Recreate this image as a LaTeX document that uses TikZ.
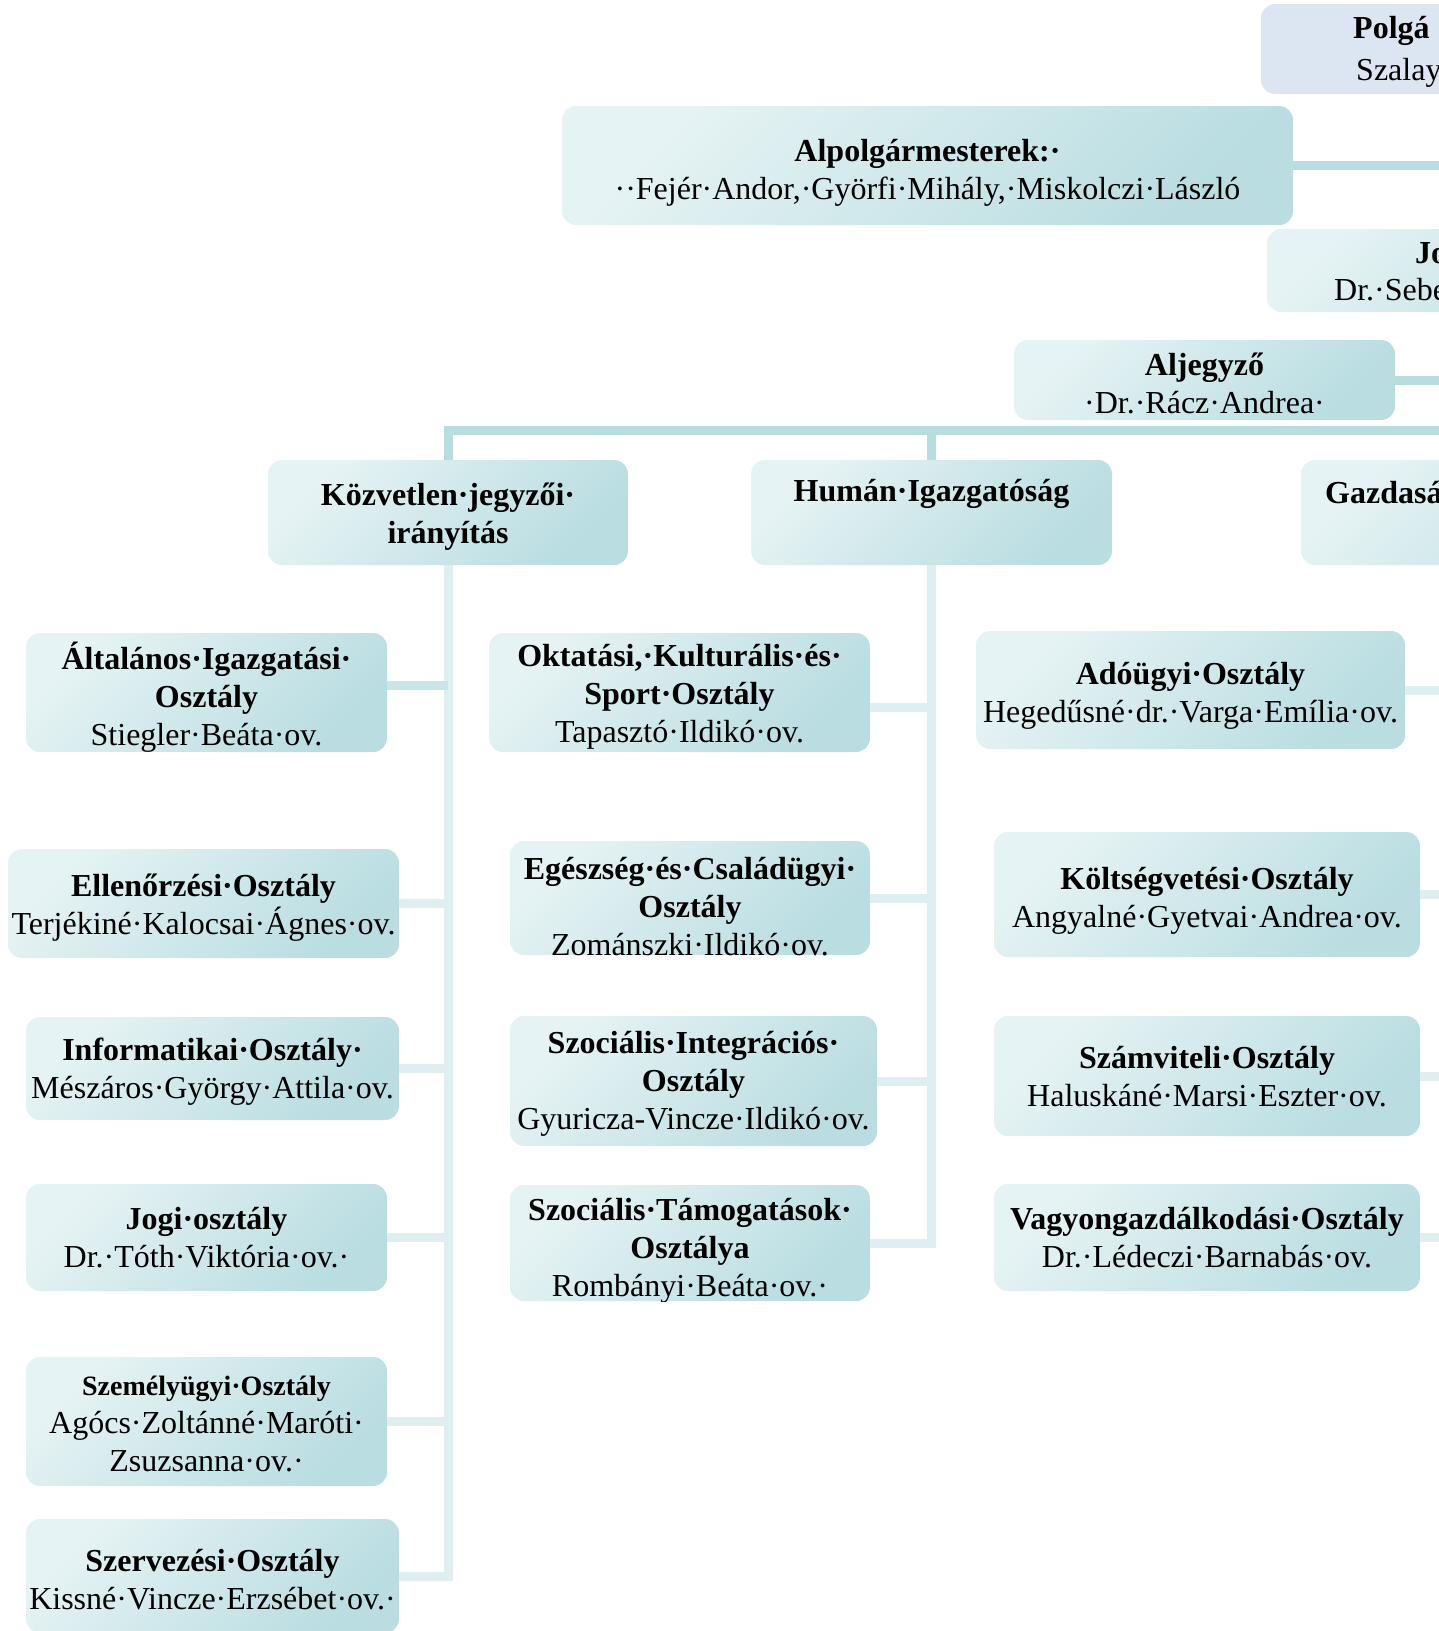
\documentclass[tikz,border=0pt]{standalone}
\usepackage{fontspec}
\setmainfont{Liberation Serif}
\usepackage{xcolor}
\usepackage{tikz}
\usetikzlibrary{calc}
\definecolor{boxlight}{HTML}{E6F3F4}
\definecolor{boxdark}{HTML}{B9DDE1}
\definecolor{headblue}{HTML}{DCE6F2}
\definecolor{linedark}{HTML}{B8DDE1}
\definecolor{linemid}{HTML}{C8E5E8}
\definecolor{linelight}{HTML}{DFEFF1}
\tikzset{
  unit/.style={rounded corners=14pt, top color=boxlight, bottom color=boxdark, shading angle=45, inner sep=0pt},
  head/.style={rounded corners=14pt, fill=headblue, inner sep=0pt},
  lbl/.style={align=center, inner sep=0pt, font=\fontsize{32}{38}\selectfont},
  bold/.style={lbl, font=\fontsize{32}{38}\selectfont\bfseries},
  intext/.style n args={3}{path picture={\node[lbl] (#1) at ([yshift=#2]path picture bounding box.center) {#3};}},
  mainline/.style={draw=linedark, line width=9pt},
  subline/.style={draw=linelight, line width=9pt},
}
\begin{document}
\begin{tikzpicture}[x=1pt,y=-1pt]
\useasboundingbox (0,0) rectangle (1439,1631);
\clip (0,0) rectangle (1439,1631);
\coordinate (edge) at (1470,0);
\coordinate (bus) at (0,430);

\node[head, minimum width=440, minimum height=90] (polg) at (1481,49) {};
\node[bold, anchor=west] (polgt) at (1353,31) {Polgá};
\node[lbl, anchor=west] (polgn) at (1356,73) {Szalay};
\node[unit, minimum width=731, minimum height=119, intext={alpolgt}{-7pt}{\textbf{Alpolgármesterek:·}\\··Fejér·Andor,·Györfi·Mihály,·Miskolczi·László}] (alpolg) at (927.5,165.5) {};
\node[unit, minimum width=440, minimum height=83] (jegyzo) at (1487,270.5) {};
\node[bold, anchor=west] (jegyzot) at (1415,253) {Jo};
\node[lbl, anchor=west] (jegyzon) at (1334,290) {Dr.·Sebe};
\node[unit, minimum width=381, minimum height=80, intext={aljegyt}{-3pt}{\textbf{Aljegyző}\\·Dr.·Rácz·Andrea·}] (aljegy) at (1204.5,380) {};

\node[unit, minimum width=360, minimum height=105, intext={kozvt}{-4pt}{\textbf{Közvetlen·jegyzői·}\\\textbf{irányítás}}] (kozv) at (448,512.5) {};
\node[unit, minimum width=361, minimum height=105, intext={humant}{19pt}{\textbf{Humán·Igazgatóság}}] (human) at (931.5,512.5) {};
\node[unit, minimum width=440, minimum height=105] (gazd) at (1521,512.5) {};
\node[bold, anchor=west] (gazdt) at (1325,493) {Gazdasá};

\node[unit, minimum width=361, minimum height=119, intext={altalt}{-4.5pt}{\textbf{Általános·Igazgatási·}\\\textbf{Osztály}\\Stiegler·Beáta·ov.}] (altal) at (206.5,692.5) {};
\node[unit, minimum width=391, minimum height=109, intext={ellent}{-4pt}{\textbf{Ellenőrzési·Osztály}\\Terjékiné·Kalocsai·Ágnes·ov.}] (ellen) at (203.5,903.5) {};
\node[unit, minimum width=373, minimum height=103, intext={informt}{-3pt}{\textbf{Informatikai·Osztály·}\\Mészáros·György·Attila·ov.}] (inform) at (212.5,1068.5) {};
\node[unit, minimum width=361, minimum height=107, intext={jogit}{0pt}{\textbf{Jogi·osztály}\\Dr.·Tóth·Viktória·ov.·}] (jogi) at (206.5,1237.5) {};
\node[unit, minimum width=361, minimum height=129, intext={szemelyt}{-2pt}{{\fontsize{28}{36}\selectfont\bfseries Személyügyi·Osztály}\\Agócs·Zoltánné·Maróti·\\Zsuzsanna·ov.·}] (szemely) at (206.5,1421.5) {};
\node[unit, minimum width=373, minimum height=114, intext={szervt}{-4pt}{\textbf{Szervezési·Osztály}\\Kissné·Vincze·Erzsébet·ov.·}] (szerv) at (212.5,1576) {};

\node[unit, minimum width=381, minimum height=119, intext={oktatt}{-4.5pt}{\textbf{Oktatási,·Kulturális·és·}\\\textbf{Sport·Osztály}\\Tapasztó·Ildikó·ov.}] (oktat) at (679.5,692.5) {};
\node[unit, minimum width=360, minimum height=114, intext={egeszt}{-9pt}{\textbf{Egészség·és·Családügyi·}\\\textbf{Osztály}\\Zománszki·Ildikó·ov.}] (egesz) at (690,898) {};
\node[unit, minimum width=367, minimum height=130, intext={szintt}{-3pt}{\textbf{Szociális·Integrációs·}\\\textbf{Osztály}\\Gyuricza-Vincze·Ildikó·ov.}] (szint) at (693.5,1081) {};
\node[unit, minimum width=360, minimum height=116, intext={sztamt}{-8pt}{\textbf{Szociális·Támogatások·}\\\textbf{Osztálya}\\Rombányi·Beáta·ov.·}] (sztam) at (690,1243) {};

\node[unit, minimum width=429, minimum height=118, intext={adougyt}{-6pt}{\textbf{Adóügyi·Osztály}\\Hegedűsné·dr.·Varga·Emília·ov.}] (adougy) at (1190.5,690) {};
\node[unit, minimum width=426, minimum height=125, intext={koltsegt}{-6pt}{\textbf{Költségvetési·Osztály}\\Angyalné·Gyetvai·Andrea·ov.}] (koltseg) at (1207,894.5) {};
\node[unit, minimum width=426, minimum height=120, intext={szamvt}{-1pt}{\textbf{Számviteli·Osztály}\\Haluskáné·Marsi·Eszter·ov.}] (szamv) at (1207,1076) {};
\node[unit, minimum width=426, minimum height=107, intext={vagyont}{0pt}{\textbf{Vagyongazdálkodási·Osztály}\\Dr.·Lédeczi·Barnabás·ov.}] (vagyon) at (1207,1237.5) {};

\draw[mainline] (alpolg.east) -- (alpolg.east -| edge);
\draw[mainline] (aljegy.east) -- (aljegy.east -| edge);
\draw[mainline] (kozv.north) -- (kozv.north |- bus) -- (bus -| edge);
\draw[mainline] (human.north) -- (human.north |- bus);

\draw[subline] (kozv.south) -- (kozv.south |- szerv.east) -- (szerv.east);
\draw[subline, draw=linemid] ([yshift=7pt]altal.east) -- ([yshift=7pt]altal.east -| kozv.south);
\draw[subline] (ellen.east) -- (ellen.east -| kozv.south);
\draw[subline] (inform.east) -- (inform.east -| kozv.south);
\draw[subline] (jogi.east) -- (jogi.east -| kozv.south);
\draw[subline] (szemely.east) -- (szemely.east -| kozv.south);

\draw[subline] (human.south) -- (human.south |- sztam.east) -- (sztam.east);
\draw[subline] ([yshift=-15pt]oktat.east) -- ([yshift=-15pt]oktat.east -| human.south);
\draw[subline] (egesz.east) -- (egesz.east -| human.south);
\draw[subline] (szint.east) -- (szint.east -| human.south);

\draw[subline] (adougy.east) -- (adougy.east -| edge);
\draw[subline] (koltseg.east) -- (koltseg.east -| edge);
\draw[subline] (szamv.east) -- (szamv.east -| edge);
\draw[subline] (vagyon.east) -- (vagyon.east -| edge);
\end{tikzpicture}
\end{document}
